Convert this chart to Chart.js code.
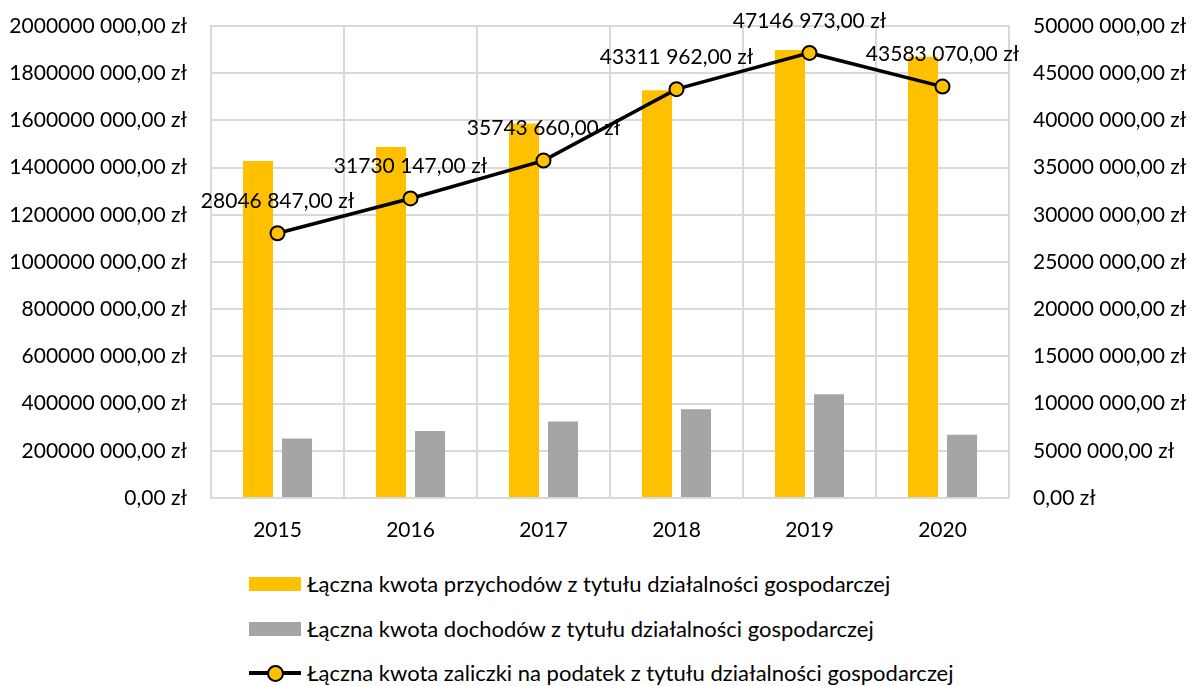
<!DOCTYPE html>
<html lang="pl">
<head>
<meta charset="utf-8">
<script src="https://cdn.jsdelivr.net/npm/chart.js@4.4.1/dist/chart.umd.min.js"></script>
<style>
  html, body { margin: 0; padding: 0; background: #fff; }
  body { width: 1195px; height: 686px; overflow: hidden; font-family: Lato, "Open Sans", sans-serif; color: #000; }
  #wrap { position: relative; width: 1195px; height: 548px; }
  #legend { position: absolute; left: 249px; top: 569px; font-size: 22px; }
  .row { height: 44.5px; display: flex; align-items: flex-start; }
  .row span.txt { line-height: 30px; margin-left: 6px; }
  .box { width: 52px; height: 14px; margin-top: 8px; }
  .lineKey { position: relative; width: 52px; height: 30px; }
  .lineKey:before { content: ""; position: absolute; left: 0; right: 0; top: 13px; height: 4px; background: #000; }
  .lineKey:after { content: ""; position: absolute; left: 18px; top: 7px; width: 13px; height: 13px; border-radius: 50%; background: #FFC000; border: 2px solid #000; }
</style>
</head>
<body>
<div id="wrap"><canvas id="chart" width="1195" height="548"></canvas></div>
<div id="legend"></div>
<script>
const years = ['2015', '2016', '2017', '2018', '2019', '2020'];
const przychody = [1428000000, 1487000000, 1587000000, 1728000000, 1898000000, 1870000000];
const dochody = [252000000, 284000000, 324000000, 376000000, 440000000, 268000000];
const zaliczki = [28046847, 31730147, 35743660, 43311962, 47146973, 43583070];
const seriesNames = [
  'Łączna kwota przychodów z tytułu działalności gospodarczej',
  'Łączna kwota dochodów z tytułu działalności gospodarczej',
  'Łączna kwota zaliczki na podatek z tytułu działalności gospodarczej'
];

const YELLOW = '#FFC000';
const GREY = '#A5A5A5';
const GRID = '#D9D9D9';
const FONT = { family: 'Lato, "Open Sans", sans-serif', size: 21 };

// "# ##0,00 zł" style: only the last thousands group is separated
function zl(v) {
  const s = Math.round(v).toString();
  const head = s.length > 3 ? s.slice(0, -3) + ' ' + s.slice(-3) : s;
  return head + ',00 zł';
}

// values over the line points
const pointLabels = {
  id: 'pointLabels',
  afterDatasetsDraw(chart) {
    const ctx = chart.ctx;
    const meta = chart.getDatasetMeta(2);
    ctx.save();
    ctx.font = FONT.size + 'px ' + FONT.family;
    ctx.fillStyle = '#000';
    ctx.textAlign = 'center';
    ctx.textBaseline = 'middle';
    meta.data.forEach((pt, i) => {
      ctx.fillText(zl(zaliczki[i]), pt.x, pt.y - 32);
    });
    ctx.restore();
  }
};

// fixed axis sizes so the plot box sits at 211..1009 x 26..498
function fitVertical(width) {
  return function(scale) {
    scale.width = width;
    scale.paddingTop = 0;
    scale.paddingBottom = 0;
  };
}

new Chart(document.getElementById('chart'), {
  type: 'bar',
  data: {
    labels: years,
    datasets: [
      {
        label: seriesNames[0],
        data: przychody,
        backgroundColor: YELLOW,
        yAxisID: 'y',
        categoryPercentage: 0.587,
        barPercentage: 0.77,
        order: 2
      },
      {
        label: seriesNames[1],
        data: dochody,
        backgroundColor: GREY,
        yAxisID: 'y',
        categoryPercentage: 0.587,
        barPercentage: 0.77,
        order: 2
      },
      {
        type: 'line',
        label: seriesNames[2],
        data: zaliczki,
        yAxisID: 'y1',
        borderColor: '#000',
        borderWidth: 3.5,
        tension: 0,
        pointRadius: 7,
        pointBackgroundColor: YELLOW,
        pointBorderColor: '#000',
        pointBorderWidth: 2,
        order: 1
      }
    ]
  },
  options: {
    responsive: false,
    animation: false,
    layout: { padding: { top: 26, left: 0, right: 0, bottom: 0 } },
    plugins: {
      legend: { display: false },
      tooltip: { enabled: false }
    },
    scales: {
      x: {
        grid: { color: GRID, lineWidth: 2, drawTicks: false },
        border: { color: GRID, width: 2 },
        ticks: { color: '#000', font: FONT, padding: 20 },
        afterFit(scale) {
          scale.height = 50;
          scale.paddingLeft = 0;
          scale.paddingRight = 0;
        }
      },
      y: {
        position: 'left',
        min: 0,
        max: 2000000000,
        grid: { color: GRID, lineWidth: 2, drawTicks: false },
        border: { color: GRID, width: 2 },
        ticks: { stepSize: 200000000, color: '#000', font: FONT, padding: 24, callback: v => zl(v) },
        afterFit: fitVertical(211)
      },
      y1: {
        position: 'right',
        min: 0,
        max: 50000000,
        grid: { drawOnChartArea: false, drawTicks: false },
        border: { color: GRID, width: 2 },
        ticks: { stepSize: 5000000, color: '#000', font: FONT, padding: 24, callback: v => zl(v) },
        afterFit: fitVertical(186)
      }
    }
  },
  plugins: [pointLabels]
});

// legend rows under the plot
const legend = document.getElementById('legend');
seriesNames.forEach((name, i) => {
  const row = document.createElement('div');
  row.className = 'row';
  const key = document.createElement('div');
  if (i < 2) {
    key.className = 'box';
    key.style.background = i === 0 ? YELLOW : GREY;
  } else {
    key.className = 'lineKey';
  }
  const txt = document.createElement('span');
  txt.className = 'txt';
  txt.textContent = name;
  row.appendChild(key);
  row.appendChild(txt);
  legend.appendChild(row);
});
</script>
</body>
</html>
